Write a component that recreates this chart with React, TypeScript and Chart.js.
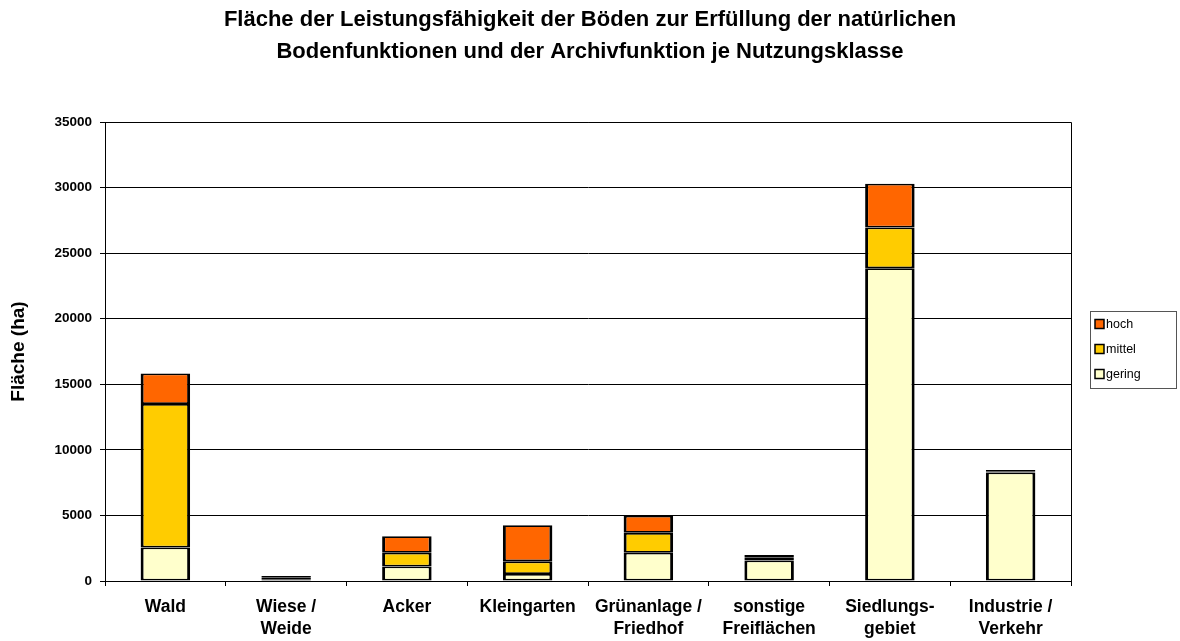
import React, { useEffect, useRef } from "react";
import { Chart, registerables } from "chart.js";

Chart.register(...registerables);

const categories: string[][] = [
  ["Wald"],
  ["Wiese /", "Weide"],
  ["Acker"],
  ["Kleingarten"],
  ["Grünanlage /", "Friedhof"],
  ["sonstige", "Freiflächen"],
  ["Siedlungs-", "gebiet"],
  ["Industrie /", "Verkehr"],
];

const gering = [2550, 130, 1100, 530, 2150, 1570, 23850, 8270];
const mittel = [10950, 120, 1050, 970, 1520, 200, 3100, 100];
const hoch = [2330, 130, 1270, 2750, 1310, 220, 3340, 100];

const yTicks = [0, 5000, 10000, 15000, 20000, 25000, 30000, 35000];

const titleLines = [
  "Fläche der Leistungsfähigkeit der Böden zur Erfüllung der natürlichen",
  "Bodenfunktionen und der Archivfunktion je Nutzungsklasse",
];
const yTitle = "Fläche (ha)";

const FONT = "Arial, 'Liberation Sans', Helvetica, sans-serif";

const framePlugin = {
  id: "frame",
  afterDraw(chart: any) {
    const { ctx, chartArea } = chart;
    ctx.save();
    ctx.strokeStyle = "#000";
    ctx.lineWidth = 1;
    ctx.beginPath();
    ctx.moveTo(chartArea.left, chartArea.top + 0.5);
    ctx.lineTo(chartArea.right + 0.5, chartArea.top + 0.5);
    ctx.lineTo(chartArea.right + 0.5, chartArea.bottom);
    ctx.stroke();

    // title, centred on the whole picture
    ctx.fillStyle = "#000";
    ctx.font = `bold 22px ${FONT}`;
    ctx.textAlign = "center";
    ctx.textBaseline = "middle";
    titleLines.forEach((t, i) => ctx.fillText(t, 590, 20 + i * 32));

    // legend
    const items = [...chart.data.datasets].reverse();
    const lx = 1090;
    const ly = 311;
    const lw = 86;
    const lh = 77;
    ctx.fillStyle = "#fff";
    ctx.fillRect(lx, ly, lw, lh);
    ctx.strokeStyle = "#555";
    ctx.lineWidth = 1;
    ctx.strokeRect(lx + 0.5, ly + 0.5, lw, lh);
    ctx.font = `12.5px ${FONT}`;
    ctx.textBaseline = "middle";
    ctx.textAlign = "left";
    items.forEach((ds: any, i: number) => {
      const cy = ly + 13 + i * 25;
      ctx.fillStyle = ds.backgroundColor;
      ctx.fillRect(lx + 5, cy - 4.5, 9, 9);
      ctx.strokeStyle = "#000";
      ctx.lineWidth = 1.5;
      ctx.strokeRect(lx + 5, cy - 4.5, 9, 9);
      ctx.fillStyle = "#000";
      ctx.fillText(ds.label, lx + 16, cy + 1);
    });
    ctx.restore();
  },
};

export default function App() {
  const ref = useRef<HTMLCanvasElement | null>(null);

  useEffect(() => {
    document.body.style.margin = "0";
    const canvas = ref.current;
    if (!canvas) return;
    const mk = (label: string, data: number[], color: string) => ({
      label,
      data,
      backgroundColor: color,
      borderColor: "#000",
      borderWidth: { top: 1.8, bottom: 1.8, left: 3, right: 3 },
      borderSkipped: false as const,
      inflateAmount: 0,
      categoryPercentage: 1,
      barPercentage: 0.41,
    });
    const chart = new Chart(canvas, {
      type: "bar",
      data: {
        labels: categories,
        datasets: [
          mk("gering", gering, "#FFFFCC"),
          mk("mittel", mittel, "#FFCC00"),
          mk("hoch", hoch, "#FF6600"),
        ],
      },
      plugins: [framePlugin],
      options: {
        responsive: false,
        animation: false,
        layout: { padding: { left: 0, right: 109, top: 122, bottom: 0 } },
        plugins: {
          legend: { display: false },
          tooltip: { enabled: false },
          title: { display: false },
        },
        scales: {
          x: {
            stacked: true,
            grid: {
              drawOnChartArea: false,
              drawTicks: true,
              tickLength: 5,
              color: "#000",
            },
            border: { color: "#000", width: 1 },
            ticks: {
              color: "#000",
              padding: 10,
              maxRotation: 0,
              autoSkip: false,
              font: { family: FONT, size: 17.5, weight: "bold", lineHeight: 1.27 },
            },
            afterFit(scale: any) {
              scale.height = 60;
            },
          },
          y: {
            stacked: true,
            min: 0,
            max: 35000,
            afterBuildTicks(scale: any) {
              scale.ticks = yTicks.map((v) => ({ value: v }));
            },
            grid: {
              color: "#000",
              lineWidth: 1,
              tickLength: 5,
            },
            border: { color: "#000", width: 1 },
            ticks: {
              color: "#000",
              padding: 8,
              font: { family: FONT, size: 13.5, weight: "bold" },
              callback: (v: any) => String(v),
            },
            title: {
              display: true,
              text: yTitle,
              color: "#000",
              font: { family: FONT, size: 19, weight: "bold", lineHeight: 1.2 },
              padding: { top: 7, bottom: 6 },
            },
            afterFit(scale: any) {
              scale.width = 105;
            },
          },
        },
      },
    });
    return () => chart.destroy();
  }, []);

  return (
    <div style={{ width: 1180, height: 641, background: "#fff" }}>
      <canvas ref={ref} width={1180} height={641} style={{ display: "block" }} />
    </div>
  );
}
